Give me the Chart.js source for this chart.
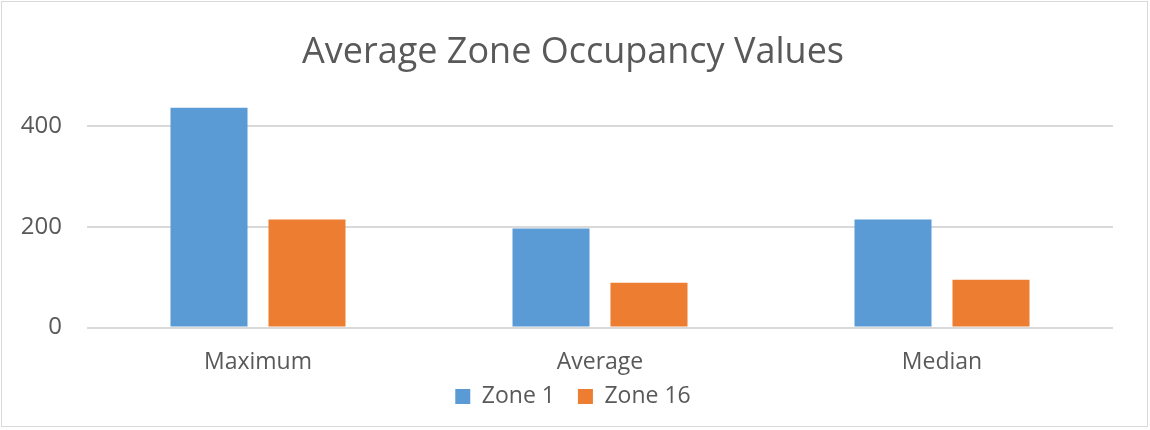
<!DOCTYPE html>
<html>
<head>
<meta charset="utf-8">
<script src="https://cdn.jsdelivr.net/npm/chart.js@4"></script>
<style>
  html, body { margin: 0; padding: 0; background: #fff; }
  #wrap { position: relative; width: 1150px; height: 430px; }
  #frame { position: absolute; left: 1px; top: 1px; width: 1145px; height: 424px; border: 1px solid #d9d9d9; pointer-events: none; }
</style>
</head>
<body>
<div id="wrap">
  <canvas id="chart" width="1150" height="430"></canvas>
  <div id="frame"></div>
</div>
<script>
const categories = ['Maximum', 'Average', 'Median'];
const zone1 = [437, 197, 215];
const zone16 = [215, 89, 95];
const yTicks = [0, 200, 400];

const textColor = '#595959';
const fontFamily = "'Open Sans', 'Liberation Sans', sans-serif";

// x axis box is squeezed so the legend sits close, so let its labels draw past the box
const unclipLabels = {
  id: 'unclipLabels',
  afterLayout(chart) { chart.scales.x.bottom = chart.height; }
};

const dataZones = {
  labels: categories,
  datasets: [
    { label: 'Zone 1', data: zone1, backgroundColor: '#5b9bd5' },
    { label: 'Zone 16', data: zone16, backgroundColor: '#ed7d31' }
  ]
};

const configZones = {
  type: 'bar',
  data: dataZones,
  plugins: [unclipLabels],
  options: {
    responsive: false,
    animation: false,
    categoryPercentage: 0.573,
    barPercentage: 0.786,
    layout: { padding: { left: 0, right: 4, top: 0, bottom: 12 } },
    plugins: {
      title: {
        display: true,
        text: 'Average Zone Occupancy Values',
        color: textColor,
        font: { family: fontFamily, size: 36, weight: 'normal' },
        padding: { top: 31, bottom: 22 }
      },
      legend: {
        position: 'bottom',
        labels: {
          color: textColor,
          font: { family: fontFamily, size: 23 },
          boxWidth: 15,
          boxHeight: 15,
          padding: 23
        }
      },
      tooltip: { enabled: false }
    },
    scales: {
      x: {
        grid: { display: false, drawTicks: false },
        border: { display: false },
        afterFit: (scale) => { scale.height = 34.5; },
        ticks: { color: textColor, font: { family: fontFamily, size: 23 }, padding: 21 }
      },
      y: {
        min: 0,
        max: 460,
        afterBuildTicks: (scale) => {
          scale.ticks = yTicks.map(v => ({ value: v }));
        },
        afterFit: (scale) => { scale.width = 87; },
        grid: { color: '#d9d9d9', lineWidth: 2, drawTicks: false },
        border: { display: false },
        ticks: { color: textColor, font: { family: fontFamily, size: 24 }, padding: 25 }
      },
      // empty spacer on the right so title and legend centre like the original
      yRight: {
        position: 'right',
        grid: { display: false, drawTicks: false },
        border: { display: false },
        ticks: { display: false },
        afterFit: (scale) => { scale.width = 33; }
      }
    }
  }
};

let barZones = new Chart(document.getElementById('chart'), configZones);
</script>
</body>
</html>
